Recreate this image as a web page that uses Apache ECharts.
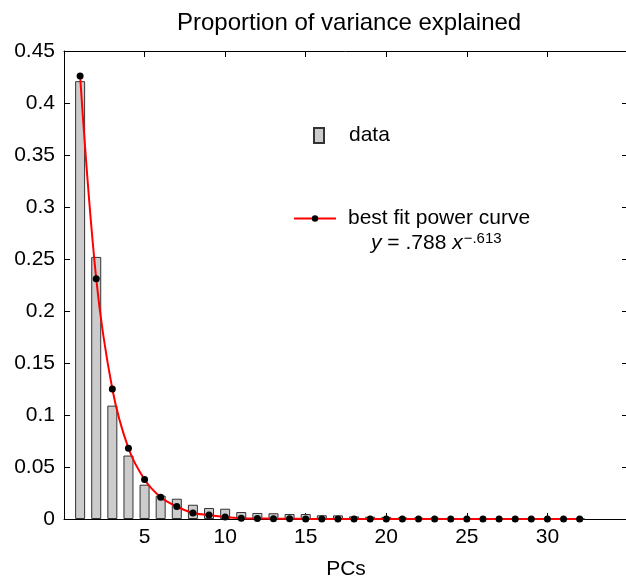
<!DOCTYPE html>
<html>
<head>
<meta charset="utf-8">
<script src="https://cdn.jsdelivr.net/npm/echarts@6/dist/echarts.min.js"></script>
<style>
  html, body { margin: 0; padding: 0; background: #fff; }
  #main { width: 626px; height: 582px; }
</style>
</head>
<body>
<div id="main"></div>
<script>
// PCs 1..32
var pcs = [1,2,3,4,5,6,7,8,9,10,11,12,13,14,15,16,17,18,19,20,21,22,23,24,25,26,27,28,29,30,31,32];
// proportion of variance explained (bars)
var varExplained = [0.421,0.252,0.109,0.061,0.033,0.0224,0.0195,0.0137,0.0106,0.0099,0.0067,0.0058,
    0.0055,0.0048,0.0048,0.0036,0.0035,0.0025,0.0022,0.002,0.0015,0.0013,0.0012,0.001,
    0.001,0.0009,0.0008,0.0007,0.0006,0.0005,0.0004,0.0003];
// best fit curve (dots)
var fitValues = [0.426,0.231,0.125,0.068,0.038,0.021,0.012,0.0058,0.0038,0.0019,0.0008,0.0005,
    0.0003,0.0002,0.0001,0.0001,0.0001,0.0001,0.0001,0.0001,0.0001,0.0001,0.0001,0.0001,
    0.0001,0.0001,0.0001,0.0001,0.0001,0.0001,0.0001,0.0001];

var FONT = 'Liberation Sans';

function pairs(xs, ys){
    var out = [];
    for (var i = 0; i < xs.length; i++) out.push([xs[i], ys[i]]);
    return out;
}

var myChart = echarts.init(document.getElementById('main'));

var tickStyle = {show: true, inside: true, length: 6, lineStyle: {color: '#000', width: 1}};
var lineStyle = {show: true, onZero: false, lineStyle: {color: '#000', width: 1}};

var option = {
    animation: false,
    backgroundColor: '#fff',
    textStyle: {fontFamily: FONT},
    title: {
        text: 'Proportion of variance explained',
        left: 177,
        top: 11,
        padding: 0,
        textStyle: {fontFamily: FONT, fontSize: 24, fontWeight: 'normal', color: '#000'}
    },
    grid: {left: 64, top: 51, right: -2, bottom: 63, containLabel: false, outerBoundsMode: 'none'},
    legend: [
        {
            data: ['data'],
            left: 313, top: 125, padding: 0,
            icon: 'rect',
            itemWidth: 10, itemHeight: 15,
            textStyle: {fontFamily: FONT, fontSize: 21, color: '#000', padding: [0, 0, 0, 20]}
        },
        {
            data: ['best fit power curve'],
            left: 293, top: 208, padding: 0,
            itemWidth: 42, itemHeight: 8,
            textStyle: {fontFamily: FONT, fontSize: 21, color: '#000', padding: [0, 0, 0, 7]}
        }
    ],
    graphic: [
        {
            type: 'text',
            left: 371, top: 231,
            style: {
                text: '{i|y} = .788 {i|x}{s|\u2212.613}',
                rich: {
                    i: {fontFamily: FONT, fontSize: 21, fontStyle: 'italic', fill: '#000'},
                    s: {fontFamily: FONT, fontSize: 15, fill: '#000', padding: [0, 0, 9, 1]}
                },
                font: '21px ' + FONT,
                fill: '#000'
            }
        }
    ],
    xAxis: [
        {
            type: 'value', min: 0, max: 35, interval: 5,
            name: 'PCs', nameLocation: 'middle', nameGap: 40,
            nameTextStyle: {fontFamily: FONT, fontSize: 21, color: '#000'},
            axisLine: lineStyle, axisTick: tickStyle,
            axisLabel: {fontFamily: FONT, fontSize: 21, color: '#000', margin: 8,
                formatter: function(v){ return (v === 0 || v === 35) ? '' : v; }},
            splitLine: {show: false}
        },
        {
            type: 'value', min: 0, max: 35, interval: 5, position: 'top',
            axisLine: lineStyle, axisTick: tickStyle,
            axisLabel: {show: false}, splitLine: {show: false}
        }
    ],
    yAxis: [
        {
            type: 'value', min: 0, max: 0.45, interval: 0.05,
            axisLine: lineStyle, axisTick: tickStyle,
            axisLabel: {fontFamily: FONT, fontSize: 21, color: '#000', margin: 9},
            splitLine: {show: false}
        },
        {
            type: 'value', min: 0, max: 0.45, interval: 0.05, position: 'right',
            axisLine: lineStyle, axisTick: tickStyle,
            axisLabel: {show: false}, splitLine: {show: false}
        }
    ],
    series: [
        {
            name: 'data',
            type: 'bar',
            data: pairs(pcs, varExplained),
            barWidth: 10,
            itemStyle: {color: '#cccccc', borderColor: '#333', borderWidth: 1},
            z: 2
        },
        {
            name: 'best fit power curve',
            type: 'line',
            data: pairs(pcs, fitValues),
            smooth: 0.35,
            symbol: 'circle',
            symbolSize: 7,
            itemStyle: {color: '#000'},
            lineStyle: {color: '#ff0000', width: 2},
            z: 3
        }
    ]
};
myChart.setOption(option);
</script>
</body>
</html>
